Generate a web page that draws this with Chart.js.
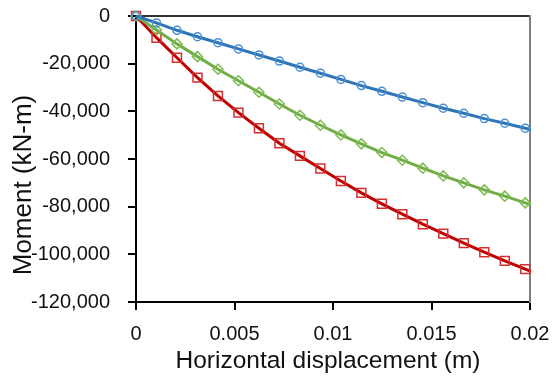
<!DOCTYPE html>
<html>
<head>
<meta charset="utf-8">
<script src="https://cdn.jsdelivr.net/npm/chart.js@4/dist/chart.umd.min.js"></script>
<style>
  html, body { margin: 0; padding: 0; background: #fff; }
  #caixa { width: 553px; height: 388px; }
</style>
</head>
<body>
<div id="caixa"><canvas id="grafico"></canvas></div>
<script>
// dados
let deslocamento = [0, 0.00104, 0.00208, 0.00312, 0.00416, 0.0052, 0.00624, 0.00728, 0.00832, 0.00936, 0.0104,
  0.01144, 0.01248, 0.01352, 0.01456, 0.0156, 0.01664, 0.01768, 0.01872, 0.01976, 0.0208];

let momentoAzul = [0, -2900, -6000, -8700, -11200, -13800, -16350, -18900, -21500, -24000, -26600,
  -29200, -31600, -34000, -36350, -38700, -40800, -43050, -45000, -47100, -49200];

let momentoVerde = [0, -5900, -11700, -17050, -22350, -27150, -32000, -36900, -41650, -45850, -49900,
  -53650, -57300, -60500, -63850, -67100, -70000, -72950, -75600, -78400, -81200];

let momentoVermelho = [0, -9100, -17500, -25850, -33550, -40550, -47100, -53400, -58700, -64000, -69200,
  -74200, -78800, -83150, -87350, -91300, -95300, -99100, -102750, -106200, -109700];

let ticksX = ["0", "0.005", "0.01", "0.015", "0.02"];
let ticksY = ["0", "-20,000", "-40,000", "-60,000", "-80,000", "-100,000", "-120,000"];

let tituloX = "Horizontal displacement (m)";
let tituloY = "Moment (kN-m)";

function pontos(valores) {
  return deslocamento.map((x, i) => ({ x: x, y: valores[i] }));
}

const fonte = '"Liberation Sans", Arial, sans-serif';
const corTexto = "#111";

// titulos dos eixos desenhados a mao
const titulos = {
  id: "titulos",
  afterDraw(chart) {
    let ctx = chart.ctx;
    let area = chart.chartArea;
    ctx.save();
    ctx.fillStyle = corTexto;
    ctx.textAlign = "center";
    ctx.textBaseline = "alphabetic";
    ctx.font = "24.5px " + fonte;
    ctx.fillText(tituloX, (area.left + area.right) / 2 - 5, 368);
    ctx.translate(31, 185);
    ctx.rotate(-Math.PI / 2);
    ctx.font = "26px " + fonte;
    ctx.fillText(tituloY, 0, 0);
    ctx.restore();
  }
};

function serie(rotulo, valores, corLinha, corMarca, estilo, raio) {
  return {
    label: rotulo,
    data: pontos(valores),
    borderColor: corLinha,
    borderWidth: 3,
    pointStyle: estilo,
    pointRadius: raio,
    pointBorderColor: corMarca,
    pointBackgroundColor: "rgba(0,0,0,0)",
    pointBorderWidth: 1.5,
    tension: 0,
    clip: { left: 10, top: 10, right: 1, bottom: 10 }
  };
}

let ctx = document.getElementById("grafico").getContext("2d");

let chart = new Chart(ctx, {
  type: "line",
  data: {
    datasets: [
      serie("Azul", momentoAzul, "#2E75B6", "#4A8FD6", "circle", 4),
      serie("Verde", momentoVerde, "#70AD47", "#7DBB50", "rectRot", 5),
      serie("Vermelho", momentoVermelho, "#C00000", "#D32F2F", "rect", 6.3)
    ]
  },
  plugins: [titulos],
  options: {
    responsive: true,
    maintainAspectRatio: false,
    animation: false,
    layout: { padding: { left: 0, right: 23, top: 16, bottom: 0 } },
    plugins: {
      legend: { display: false },
      tooltip: { enabled: false }
    },
    scales: {
      x: {
        type: "linear",
        min: 0,
        max: 0.02,
        ticks: {
          stepSize: 0.005,
          color: corTexto,
          font: { family: fonte, size: 20 },
          padding: 12,
          maxRotation: 0,
          callback: (v, i) => ticksX[i]
        },
        grid: { drawOnChartArea: false, color: "#000", tickLength: 8, lineWidth: 2 },
        border: { color: "#000", width: 2 },
        afterFit: s => { s.height = 86; s.paddingLeft = 0; s.paddingRight = 0; }
      },
      x2: {
        type: "linear",
        position: "top",
        ticks: { display: false },
        grid: { display: false },
        border: { color: "#333", width: 2 },
        afterFit: s => { s.height = 0; s.paddingLeft = 0; s.paddingRight = 0; }
      },
      y: {
        min: -120000,
        max: 0,
        ticks: {
          stepSize: 20000,
          color: corTexto,
          font: { family: fonte, size: 20 },
          padding: 18,
          callback: (v, i) => ticksY[ticksY.length - 1 - i]
        },
        grid: { drawOnChartArea: false, color: "#000", tickLength: 8, lineWidth: 2 },
        border: { color: "#000", width: 2 },
        afterFit: s => { s.width = 136; s.paddingTop = 0; s.paddingBottom = 0; }
      },
      y2: {
        position: "right",
        ticks: { display: false },
        grid: { display: false },
        border: { color: "#7f7f7f", width: 2 },
        afterFit: s => { s.width = 0; s.paddingTop = 0; s.paddingBottom = 0; }
      }
    }
  }
});
</script>
</body>
</html>
